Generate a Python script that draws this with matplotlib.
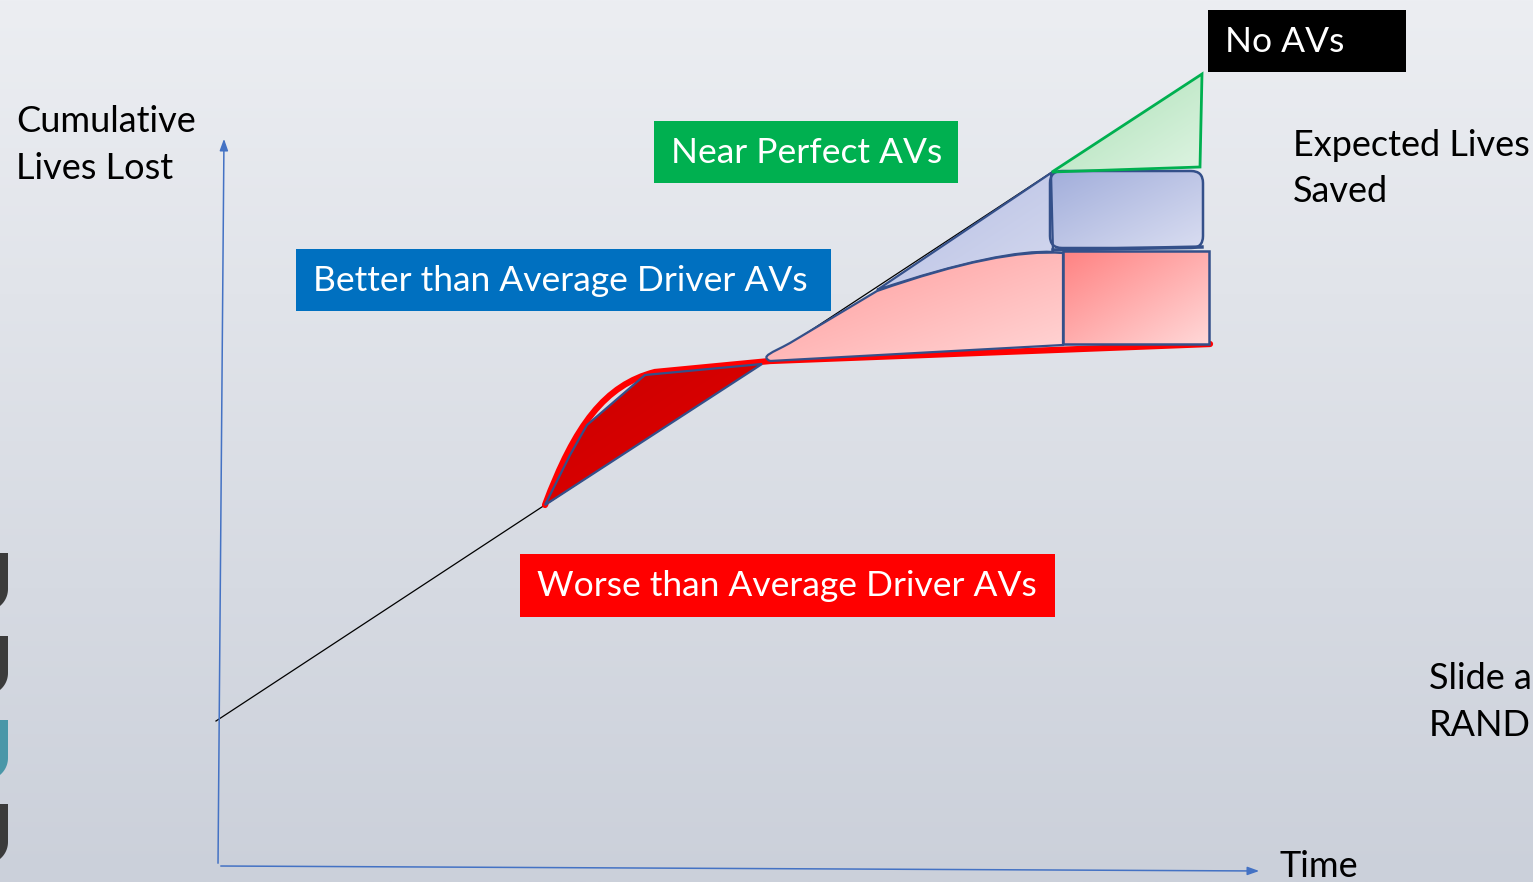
import matplotlib.pyplot as plt
import numpy as np
from matplotlib.patches import Polygon, Rectangle, FancyBboxPatch, PathPatch
from matplotlib.path import Path

plt.rcParams['font.family'] = ['Lato', 'DejaVu Sans']

W, H = 1533, 882

# --- diagram geometry (slide pixel coordinates, y grows downwards) ---
no_av_x = [216, 1052]
no_av_y = [721, 172]

y_axis = [(218, 866), (224, 136)]
x_axis = [(218, 866), (1262, 871)]

# worse-than-average curve (thick red) and its dark fill
worse_line = [(545, 505), (575, 425), (605, 385), (655, 372), (770, 361), (1210, 344)]
worse_codes = [Path.MOVETO, Path.CURVE4, Path.CURVE4, Path.CURVE4, Path.LINETO, Path.LINETO]
worse_fill = [(545, 505), (570, 455), (587, 425), (645, 375), (762, 364)]

# better-than-average teardrop (pink) and lives-saved block
better_shape = [(770, 361), (1063, 345), (1063, 253), (1020, 250), (960, 262), (877, 291),
                (790, 343), (772, 353), (760, 356), (770, 361)]
better_codes = [Path.MOVETO, Path.LINETO, Path.LINETO, Path.CURVE4, Path.CURVE4, Path.CURVE4,
                Path.LINETO, Path.CURVE4, Path.CURVE4, Path.CURVE4]
better_block = (1063, 251, 146, 93)

# near-perfect wedge (lavender) and lives-saved block
perfect_shape = [(877, 290), (1051, 173), (1053, 252), (1020, 250), (960, 262), (877, 290)]
perfect_codes = [Path.MOVETO, Path.LINETO, Path.LINETO, Path.CURVE4, Path.CURVE4, Path.CURVE4]
perfect_block = (1050, 171, 153, 77)

# no-AV wedge (green)
no_av_wedge = [(1052, 172), (1202, 74), (1200, 167)]

labels = ['No AVs', 'Near Perfect AVs', 'Better than Average Driver AVs', 'Worse than Average Driver AVs']
label_boxes = [(1208, 10, 198, 62), (654, 121, 304, 62), (296, 249, 535, 62), (520, 554, 535, 63)]
label_colors = ['#000000', '#00b050', '#0070c0', '#ff0000']

navy = '#34508a'
axis_blue = '#4472c4'


def gradient(c1, c2, n=200):
    a = np.array(plt.matplotlib.colors.to_rgb(c1))
    b = np.array(plt.matplotlib.colors.to_rgb(c2))
    xx, yy = np.meshgrid(np.linspace(0, 1, n), np.linspace(0, 1, n))
    t = (xx + yy) / 2
    return a + (b - a) * t[..., None]


def grad_patch(ax, patch, c1, c2, box):
    ax.add_patch(patch)
    x0, y0, x1, y1 = box
    im = ax.imshow(gradient(c1, c2), extent=(x0, x1, y1, y0), origin='upper',
                   zorder=patch.get_zorder() - 0.1, interpolation='bilinear')
    im.set_clip_path(patch)


fig = plt.figure(figsize=(W / 100, H / 100), dpi=100)
ax = fig.add_axes([0, 0, 1, 1])
ax.set_xlim(0, W)
ax.set_ylim(H, 0)
ax.axis('off')

# background
bg = np.linspace(0, 1, 300)[:, None]
top = np.array([236, 238, 242]) / 255
bot = np.array([203, 208, 218]) / 255
ax.imshow((top + (bot - top) * bg[..., None]) * np.ones((1, 2, 1)),
          extent=(0, W, H, 0), origin='upper', aspect='auto', zorder=0)

# logo stubs on the left edge
for (t, b), c in zip([(553, 611), (636, 695), (720, 780), (804, 864)],
                     ['#3b3b3b', '#3b3b3b', '#4a97a8', '#3b3b3b']):
    ang = np.linspace(0, np.pi / 2, 20)
    r = 22
    arc = [(8 - r + r * np.cos(a), b - r + r * np.sin(a)) for a in ang]
    pts = [(-20, t), (8, t)] + arc + [(-20, b)]
    ax.add_patch(Polygon(pts, closed=True, fc=c, ec='none', zorder=1))

# axes arrows
ax.annotate('', xy=y_axis[1], xytext=y_axis[0],
            arrowprops=dict(arrowstyle='-|>,head_length=0.7,head_width=0.25', color=axis_blue, lw=1.1))
ax.annotate('', xy=x_axis[1], xytext=x_axis[0],
            arrowprops=dict(arrowstyle='-|>,head_length=0.7,head_width=0.25', color=axis_blue, lw=1.1))

# no-AV diagonal
ax.plot(no_av_x, no_av_y, color='black', lw=0.9, zorder=2)

# lavender wedge + block
grad_patch(ax, PathPatch(Path(perfect_shape, perfect_codes), fc='none', ec=navy, lw=1.6, zorder=4),
           '#b4bde3', '#d6daef', (870, 170, 1060, 295))
grad_patch(ax, FancyBboxPatch(perfect_block[:2], perfect_block[2], perfect_block[3],
                              boxstyle='round,pad=0,rounding_size=12', fc='none', ec=navy, lw=1.8, zorder=4),
           '#a2aedb', '#d9ddf1', (1050, 171, 1203, 248))
ax.plot([1053, 1202], [250, 247], color=navy, lw=2.5, zorder=4.5)

# green wedge
grad_patch(ax, Polygon(no_av_wedge, closed=True, fc='none', ec='#00b050', lw=2, zorder=4),
           '#a9dfb4', '#def4e2', (1052, 74, 1202, 172))

# pink teardrop + block
grad_patch(ax, PathPatch(Path(better_shape, better_codes), fc='none', ec=navy, lw=1.6, zorder=5),
           '#ff9a9a', '#ffd6d6', (760, 250, 1065, 362))
grad_patch(ax, Rectangle(better_block[:2], better_block[2], better_block[3], fc='none', ec=navy, lw=1.8, zorder=5),
           '#ff8282', '#ffd8d8', (1063, 251, 1209, 344))

# worse-than-average region
ax.add_patch(PathPatch(Path(worse_line, worse_codes), fc='none', ec='#ff0000', lw=4.5, zorder=3,
                       capstyle='round'))
grad_patch(ax, Polygon(worse_fill, closed=True, fc='none', ec=navy, lw=1.6, zorder=3.5),
           '#c80000', '#e60000', (545, 364, 762, 505))

# labelled boxes
for lab, (x, y, w, h), c in zip(labels, label_boxes, label_colors):
    ax.add_patch(Rectangle((x, y), w, h, fc=c, ec='none', zorder=6))
    ax.text(x + 17, y + h / 2 + 1, lab, color='white', fontsize=25.5, va='center', ha='left', zorder=7)

# free text
txt = dict(color='black', fontsize=26, ha='left', va='baseline', zorder=7)
ax.text(16, 132, 'Cumulative', **txt)
ax.text(16, 179, 'Lives Lost', **txt)
ax.text(1293, 156, 'Expected Lives', **txt)
ax.text(1293, 202, 'Saved', **txt)
ax.text(1429, 689, 'Slide a', **txt)
ax.text(1429, 736, 'RAND', **txt)
ax.text(1279, 877, 'Time', **txt)

fig.savefig('out.png', dpi=100)
